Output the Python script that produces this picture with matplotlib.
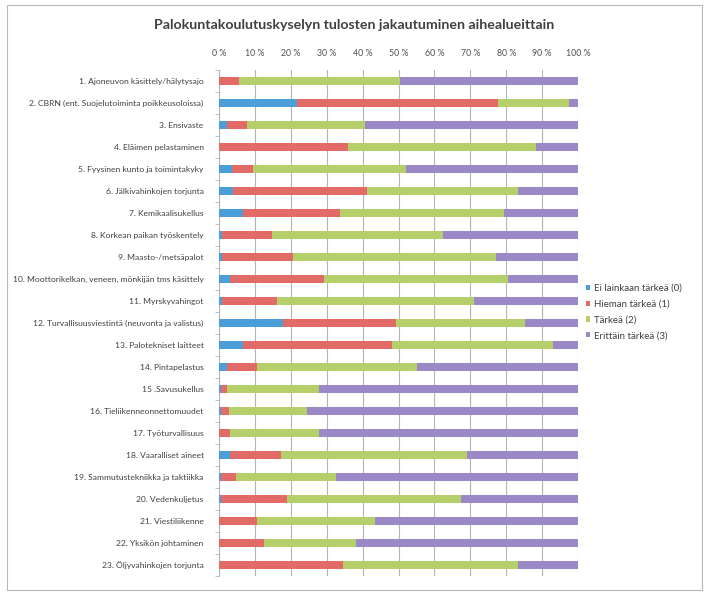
import matplotlib
matplotlib.use("Agg")
import matplotlib.pyplot as plt
import numpy as np
from matplotlib.patches import Rectangle

plt.rcParams['font.family'] = ['Lato', 'DejaVu Sans']

categories = [
    "1. Ajoneuvon käsittely/hälytysajo",
    "2. CBRN (ent. Suojelutoiminta poikkeusoloissa)",
    "3. Ensivaste",
    "4. Eläimen pelastaminen",
    "5. Fyysinen kunto ja toimintakyky",
    "6. Jälkivahinkojen torjunta",
    "7. Kemikaalisukellus",
    "8. Korkean paikan työskentely",
    "9. Maasto-/metsäpalot",
    "10. Moottorikelkan, veneen, mönkijän tms käsittely",
    "11. Myrskyvahingot",
    "12. Turvallisuusviestintä (neuvonta ja valistus)",
    "13. Palotekniset laitteet",
    "14. Pintapelastus",
    "15 .Savusukellus",
    "16. Tieliikenneonnettomuudet",
    "17. Työturvallisuus",
    "18. Vaaralliset aineet",
    "19. Sammutustekniikka ja taktiikka",
    "20. Vedenkuljetus",
    "21. Viestiliikenne",
    "22. Yksikön johtaminen",
    "23. Öljyvahinkojen torjunta",
]

series_names = ["Ei lainkaan tärkeä (0)", "Hieman tärkeä (1)", "Tärkeä (2)", "Erittäin tärkeä (3)"]

ei_lainkaan = [0.0, 21.6, 2.1, 0.0, 3.7, 4.0, 6.8, 0.7, 0.7, 3.1, 0.7, 17.9, 6.8, 2.1,
               0.5, 0.5, 0.0, 3.1, 0.5, 0.6, 0.0, 0.0, 0.0]
hieman = [5.6, 56.0, 5.6, 36.0, 5.9, 37.1, 26.9, 14.0, 19.8, 26.2, 15.4, 31.3, 41.5, 8.4,
          1.6, 2.4, 3.1, 14.2, 4.2, 18.4, 10.5, 12.6, 34.6]
tarkea = [44.8, 19.9, 33.0, 52.2, 42.5, 42.3, 45.8, 47.8, 56.6, 51.2, 55.0, 36.0, 44.6, 44.6,
          25.8, 21.7, 24.8, 51.7, 27.8, 48.3, 33.0, 25.5, 48.6]
erittain = [49.6, 2.5, 59.3, 11.8, 47.9, 16.6, 20.5, 37.5, 22.9, 19.5, 28.9, 14.8, 7.1, 44.9,
            72.1, 75.4, 72.1, 31.0, 67.5, 32.7, 56.5, 61.9, 16.8]

tick_vals = [0, 10, 20, 30, 40, 50, 60, 70, 80, 90, 100]
tick_labels = ["0 %", "10 %", "20 %", "30 %", "40 %", "50 %", "60 %", "70 %", "80 %", "90 %", "100 %"]

colors = ["#4A9FD8", "#E26B67", "#B5D06A", "#9B88C6"]

fig = plt.figure(figsize=(7.05, 5.93), dpi=100)
fig.patch.set_facecolor("white")

# chart border
fig.patches.append(Rectangle((7/705, 1-590/593), 695/705, 585/593, transform=fig.transFigure,
                             fill=False, edgecolor="#b8b8b8", linewidth=0.8))

ax = fig.add_axes([219/705, 1-576/593, 359/705, 506/593])

data = [ei_lainkaan, hieman, tarkea, erittain]
y = np.arange(len(categories))
left = np.zeros(len(categories))
handles = []
for vals, name, col in zip(data, series_names, colors):
    v = np.array(vals, dtype=float)
    h = ax.barh(y, v, left=left, height=0.4, color=col, label=name, zorder=3, linewidth=0)
    handles.append(h)
    left = left + v

ax.set_xlim(0, 100)
ax.set_ylim(len(categories) - 0.5, -0.5)

ax.xaxis.tick_top()
ax.set_xticks(tick_vals)
ax.set_xticklabels(tick_labels, fontsize=6.3, color="#505050")
ax.tick_params(axis="x", length=0, pad=9)
ax.grid(axis="x", color="#b5b5b5", linewidth=0.8, zorder=0)

ax.set_yticks(y)
ax.set_yticklabels(categories, fontsize=6.1, color="#404040")
ax.set_yticks(np.arange(len(categories) + 1) - 0.5, minor=True)
ax.tick_params(axis="y", which="major", length=0, pad=11)
ax.tick_params(axis="y", which="minor", length=3, color="#b5b5b5")

for s in ["top", "right", "bottom"]:
    ax.spines[s].set_visible(False)
ax.spines["left"].set_color("#b5b5b5")
ax.spines["left"].set_linewidth(0.8)

fig.text(354/705, 1-25/593, "Palokuntakoulutuskyselyn tulosten jakautuminen aihealueittain",
         ha="center", va="center", fontsize=10.2, fontweight="bold", color="#404040")

fig.legend(handles=handles, labels=series_names, loc="upper left",
           bbox_to_anchor=(582/705, 1-280/593), frameon=False, fontsize=7.0,
           handlelength=0.45, handleheight=0.45, handletextpad=0.4, labelspacing=0.7,
           labelcolor="#404040", borderaxespad=0)

fig.savefig("out.png", dpi=100, facecolor="white")
